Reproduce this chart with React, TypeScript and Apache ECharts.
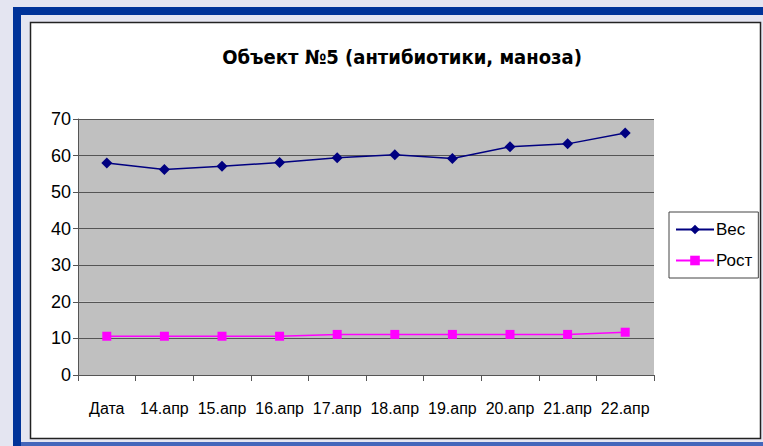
import React, { useEffect, useRef } from "react";
import * as echarts from "echarts";

const categories = ["Дата", "14.апр", "15.апр", "16.апр", "17.апр", "18.апр", "19.апр", "20.апр", "21.апр", "22.апр"];
const vesValues = [58, 56.2, 57.1, 58.1, 59.4, 60.2, 59.2, 62.4, 63.2, 66.2];
const rostValues = [10.6, 10.6, 10.6, 10.6, 11.1, 11.1, 11.1, 11.1, 11.1, 11.7];
const seriesNames = ["Вес", "Рост"];
const titleText = "Объект №5 (антибиотики, маноза)";

export default function App() {
  const ref = useRef<HTMLDivElement>(null);
  useEffect(() => {
    if (!ref.current) return;
    const chart = echarts.init(ref.current, undefined, { renderer: "svg" });
    const font = "'Liberation Sans', Arial, sans-serif";
    chart.setOption({
      animation: false,
      backgroundColor: "#e4e5f1",
      title: {
        text: titleText,
        left: 397,
        top: 42,
        textAlign: "center",
        textStyle: {
          fontFamily: "'DejaVu Sans Condensed', sans-serif",
          fontWeight: "bold",
          fontSize: 20,
          color: "#000",
        },
      },
      graphic: [
        { type: "rect", z: -10, shape: { x: 13, y: 7, width: 750, height: 8 }, style: { fill: "#003399" } },
        { type: "rect", z: -10, shape: { x: 13, y: 7, width: 8, height: 439 }, style: { fill: "#003399" } },
        { type: "rect", z: -10, shape: { x: 21, y: 442, width: 742, height: 4 }, style: { fill: "#4466bb" } },
        { type: "rect", z: -9, shape: { x: 30.5, y: 22.5, width: 730, height: 416 }, style: { fill: "#ffffff", stroke: "#222", lineWidth: 1.5 } },
      ],
      legend: {
        data: seriesNames,
        orient: "vertical",
        left: 669,
        top: 212,
        width: 88,
        padding: [9, 6, 9, 6],
        itemGap: 14,
        itemWidth: 38,
        itemHeight: 12,
        borderColor: "#444",
        borderWidth: 1,
        backgroundColor: "#fff",
        textStyle: { fontFamily: font, fontSize: 17, color: "#000", padding: [0, 0, 0, -3] },
      },
      grid: { left: 78, top: 119, width: 576, height: 256 },
      xAxis: {
        type: "category",
        data: categories,
        boundaryGap: true,
        axisLine: { lineStyle: { color: "#555", width: 1 } },
        axisTick: { show: true, interval: 0, length: 6, lineStyle: { color: "#555" } },
        axisLabel: { interval: 0, fontFamily: font, fontSize: 16, color: "#000", margin: 25 },
        splitLine: { show: false },
      },
      yAxis: {
        type: "value",
        min: 0,
        max: 70,
        interval: 10,
        axisLine: { show: true, lineStyle: { color: "#555" } },
        axisTick: { show: true, length: 5, lineStyle: { color: "#555" } },
        axisLabel: { fontFamily: font, fontSize: 18, color: "#000", margin: 7 },
        splitLine: { lineStyle: { color: "#555", width: 1 } },
        splitArea: { show: true, areaStyle: { color: ["#c0c0c0", "#c0c0c0"] } },
      },
      series: [
        {
          name: seriesNames[0],
          type: "line",
          data: vesValues,
          symbol: "diamond",
          symbolSize: 11,
          itemStyle: { color: "#000080" },
          lineStyle: { color: "#000080", width: 1.5 },
        },
        {
          name: seriesNames[1],
          type: "line",
          data: rostValues,
          symbol: "rect",
          symbolSize: 9,
          itemStyle: { color: "#ff00ff" },
          lineStyle: { color: "#ff00ff", width: 1.5 },
        },
      ],
    });
    return () => chart.dispose();
  }, []);
  return <div ref={ref} style={{ position: "fixed", left: 0, top: 0, width: 763, height: 446 }} />;
}
